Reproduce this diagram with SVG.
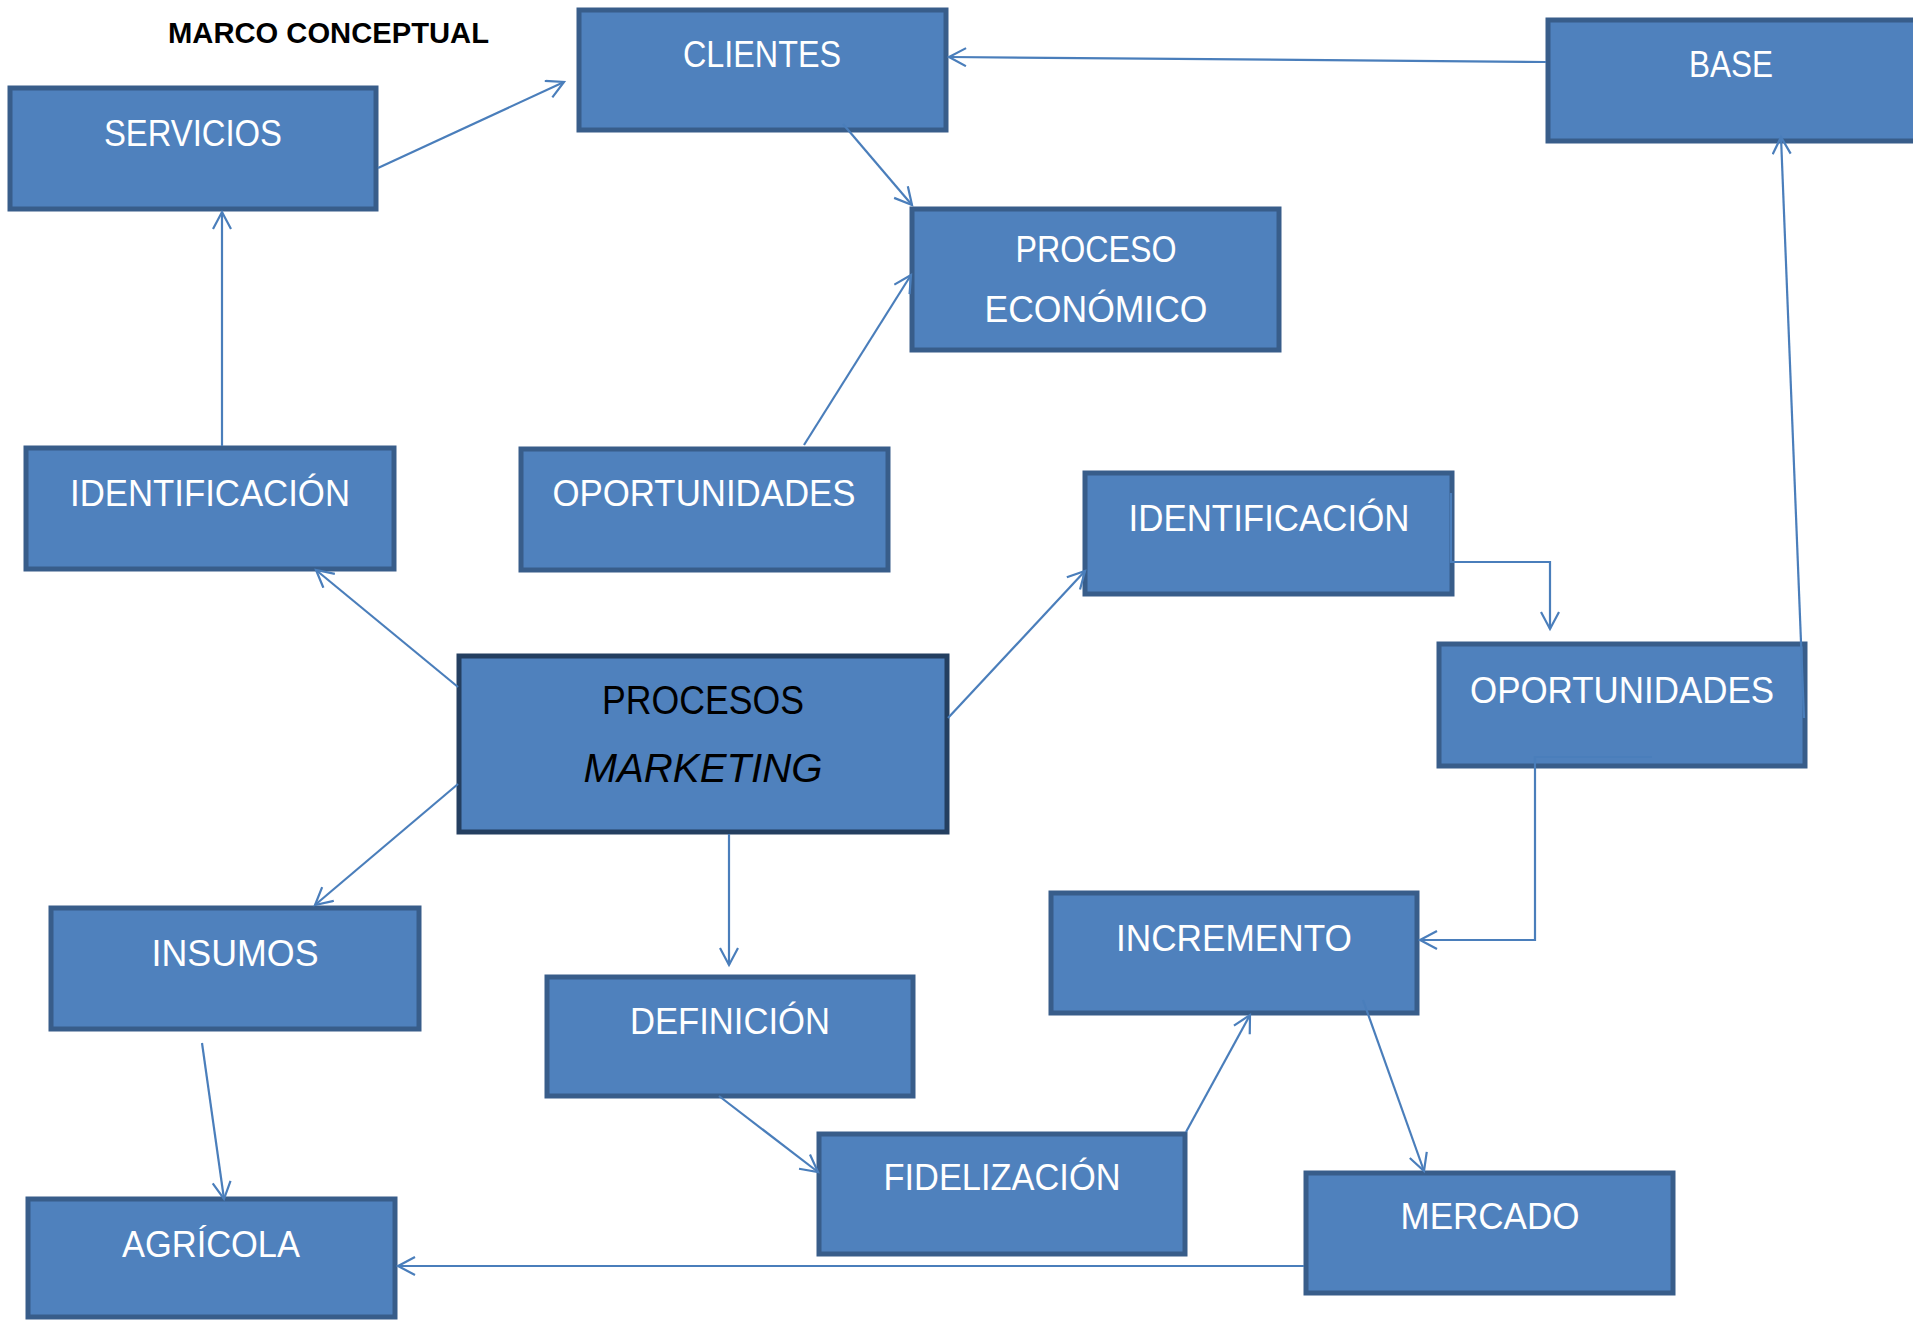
<svg xmlns="http://www.w3.org/2000/svg" width="1913" height="1320" viewBox="0 0 1913 1320">
<style>
.box{fill:#4F81BD;stroke:#385D8A;stroke-width:5}
.main{fill:#4F81BD;stroke:#243F60;stroke-width:5}
.lbl{font-family:"Liberation Sans",Arial,sans-serif;font-size:37px;fill:#FFFFFF;text-anchor:middle}
.mlbl{font-family:"Liberation Sans",Arial,sans-serif;font-size:40px;fill:#000000;text-anchor:middle}
.title{font-family:"Liberation Sans",Arial,sans-serif;font-size:29px;font-weight:bold;fill:#000000}
.con{fill:none;stroke:#4A7EBB;stroke-width:2.2}
</style>
<defs>
<marker id="arr" markerUnits="userSpaceOnUse" markerWidth="24" markerHeight="24" refX="18" refY="10" orient="auto" viewBox="0 0 24 24">
<path d="M1,1 L18,10 L1,19" fill="none" stroke="#4A7EBB" stroke-width="2.2"/>
</marker>
</defs>
<rect width="1913" height="1320" fill="#FFFFFF"/>
<text class="title" x="168" y="43" textLength="321" lengthAdjust="spacingAndGlyphs">MARCO CONCEPTUAL</text>
<g id="servicios"><rect class="box" x="10" y="88" width="366" height="121"/><text class="lbl" x="193" y="146" textLength="178" lengthAdjust="spacingAndGlyphs">SERVICIOS</text></g>
<g id="clientes"><rect class="box" x="579" y="10" width="367" height="120"/><text class="lbl" x="762" y="67" textLength="158" lengthAdjust="spacingAndGlyphs">CLIENTES</text></g>
<g id="base"><rect class="box" x="1548" y="20" width="370" height="121"/><text class="lbl" x="1731" y="77" textLength="84" lengthAdjust="spacingAndGlyphs">BASE</text></g>
<g id="proceso-economico"><rect class="box" x="912" y="209" width="367" height="141"/><text class="lbl" x="1096" y="262" textLength="161" lengthAdjust="spacingAndGlyphs">PROCESO</text><text class="lbl" x="1096" y="322" textLength="223" lengthAdjust="spacingAndGlyphs">ECONÓMICO</text></g>
<g id="identificacion-1"><rect class="box" x="26" y="448" width="368" height="121"/><text class="lbl" x="210" y="506" textLength="280" lengthAdjust="spacingAndGlyphs">IDENTIFICACIÓN</text></g>
<g id="oportunidades-1"><rect class="box" x="521" y="449" width="367" height="121"/><text class="lbl" x="704" y="506" textLength="303" lengthAdjust="spacingAndGlyphs">OPORTUNIDADES</text></g>
<g id="procesos-marketing"><rect class="main" x="459" y="656" width="488" height="176"/><text class="mlbl" x="703" y="714" textLength="202" lengthAdjust="spacingAndGlyphs">PROCESOS</text><text class="mlbl" x="703" y="782" font-style="italic" textLength="239" lengthAdjust="spacingAndGlyphs">MARKETING</text></g>
<g id="identificacion-2"><rect class="box" x="1085" y="473" width="367" height="121"/><text class="lbl" x="1269" y="531" textLength="281" lengthAdjust="spacingAndGlyphs">IDENTIFICACIÓN</text></g>
<g id="oportunidades-2"><rect class="box" x="1439" y="644" width="366" height="122"/><text class="lbl" x="1622" y="703" textLength="304" lengthAdjust="spacingAndGlyphs">OPORTUNIDADES</text></g>
<g id="insumos"><rect class="box" x="51" y="908" width="368" height="121"/><text class="lbl" x="235" y="966" textLength="167" lengthAdjust="spacingAndGlyphs">INSUMOS</text></g>
<g id="definicion"><rect class="box" x="547" y="977" width="366" height="119"/><text class="lbl" x="730" y="1034" textLength="200" lengthAdjust="spacingAndGlyphs">DEFINICIÓN</text></g>
<g id="agricola"><rect class="box" x="28" y="1199" width="367" height="118"/><text class="lbl" x="211" y="1257" textLength="178" lengthAdjust="spacingAndGlyphs">AGRÍCOLA</text></g>
<g id="fidelizacion"><rect class="box" x="819" y="1134" width="366" height="120"/><text class="lbl" x="1002" y="1190" textLength="237" lengthAdjust="spacingAndGlyphs">FIDELIZACIÓN</text></g>
<g id="incremento"><rect class="box" x="1051" y="893" width="366" height="120"/><text class="lbl" x="1234" y="951" textLength="236" lengthAdjust="spacingAndGlyphs">INCREMENTO</text></g>
<g id="mercado"><rect class="box" x="1306" y="1173" width="367" height="120"/><text class="lbl" x="1490" y="1229" textLength="179" lengthAdjust="spacingAndGlyphs">MERCADO</text></g>
<g id="connectors">
<line class="con" x1="378" y1="168" x2="564" y2="82" marker-end="url(#arr)"/>
<line class="con" x1="843" y1="124" x2="912" y2="205" marker-end="url(#arr)"/>
<line class="con" x1="1546" y1="62" x2="949" y2="57" marker-end="url(#arr)"/>
<line class="con" x1="1804" y1="718" x2="1781" y2="137" marker-end="url(#arr)"/>
<line class="con" x1="804" y1="445" x2="911" y2="275" marker-end="url(#arr)"/>
<line class="con" x1="222" y1="446" x2="222" y2="212" marker-end="url(#arr)"/>
<line class="con" x1="458" y1="687" x2="316" y2="570" marker-end="url(#arr)"/>
<line class="con" x1="458" y1="784" x2="315" y2="905" marker-end="url(#arr)"/>
<line class="con" x1="729" y1="834" x2="729" y2="965" marker-end="url(#arr)"/>
<line class="con" x1="948" y1="718" x2="1085" y2="571" marker-end="url(#arr)"/>
<polyline class="con" points="1451,493 1451,562 1550,562 1550,629" marker-end="url(#arr)"/>
<polyline class="con" points="1652,757 1535,757 1535,940 1420,940" marker-end="url(#arr)"/>
<line class="con" x1="1186" y1="1132" x2="1250" y2="1015" marker-end="url(#arr)"/>
<line class="con" x1="1363" y1="1000" x2="1424" y2="1171" marker-end="url(#arr)"/>
<line class="con" x1="719" y1="1096" x2="818" y2="1172" marker-end="url(#arr)"/>
<line class="con" x1="202" y1="1043" x2="224" y2="1199" marker-end="url(#arr)"/>
<line class="con" x1="1304" y1="1266" x2="398" y2="1266" marker-end="url(#arr)"/>
</g>
</svg>
